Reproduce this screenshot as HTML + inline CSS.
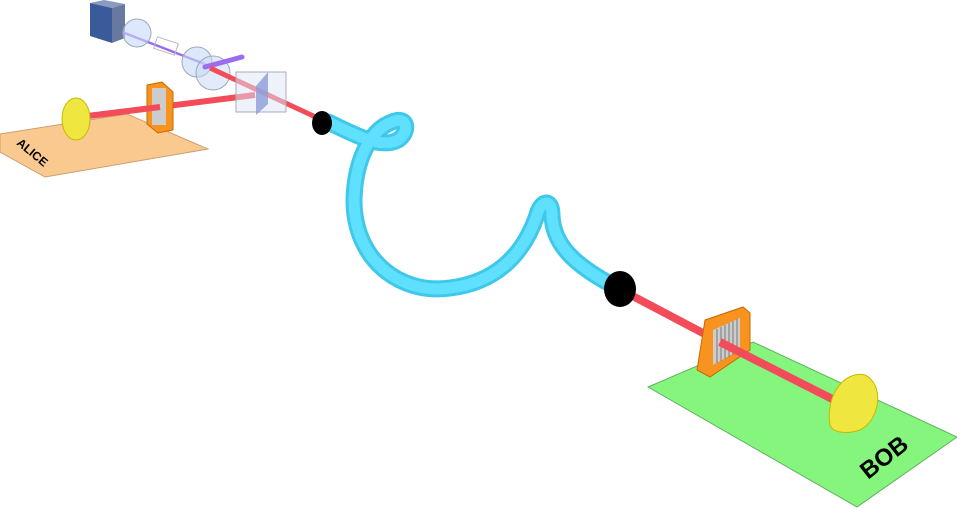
<!DOCTYPE html>
<html><head><style>body{margin:0;background:#fff}svg{display:block}</style></head><body>
<svg width="957" height="508" viewBox="0 0 957 508" xmlns="http://www.w3.org/2000/svg">
<!-- Alice board -->
<polygon points="0,134 127,114 208,149 45,177 0,152" fill="#f9c98f" stroke="#c9a070" stroke-width="1"/>
<text x="0" y="0" transform="translate(16,144) rotate(40)" font-family="Liberation Sans, sans-serif" font-weight="bold" font-size="12" fill="#000">ALICE</text>
<!-- Bob board -->
<polygon points="648,387 753,342 957,437 857,507" fill="#86f57e" stroke="#60b060" stroke-width="1"/>
<text x="0" y="0" transform="translate(868,480) rotate(-38)" font-family="Liberation Sans, sans-serif" font-weight="bold" font-size="24" fill="#000">BOB</text>
<!-- source -->
<polygon points="90,3 112,8 125,4 104,0" fill="#8a9ac0"/>
<polygon points="112,8 125,4 125,38 112,43" fill="#6878a0"/>
<polygon points="90,3 112,8 112,43 90,36" fill="#3b5a9a"/>
<line x1="122" y1="32" x2="215" y2="68" stroke="#9b6cf0" stroke-width="2.5"/>
<circle cx="137" cy="33" r="14" fill="#c8d8f8" fill-opacity="0.6" stroke="#9ab" stroke-width="1"/>
<rect x="155" y="40" width="22" height="12" fill="none" stroke="#bbb" transform="rotate(18 166 46)"/>
<circle cx="197" cy="62" r="15" fill="#c8d8f8" fill-opacity="0.6" stroke="#9ab" stroke-width="1"/>
<circle cx="213" cy="73" r="17" fill="#c8d8f8" fill-opacity="0.5" stroke="#9ab" stroke-width="1"/>
<line x1="205" y1="67" x2="242" y2="57" stroke="#9b6cf0" stroke-width="5" stroke-linecap="round"/>
<!-- red beams alice -->
<line x1="210" y1="68" x2="322" y2="120" stroke="#f24c5a" stroke-width="5"/>
<line x1="80" y1="117" x2="255" y2="95" stroke="#f24c5a" stroke-width="6"/>
<!-- cube -->
<rect x="236" y="72" width="50" height="40" fill="#dde8f8" fill-opacity="0.5" stroke="#aab" stroke-width="1"/>
<polygon points="256,86 268,72 268,104 256,115" fill="#8b9bd8" fill-opacity="0.8"/>
<!-- alice polarizer -->
<polygon points="147,85 162,82 173,92 173,130 158,133 147,124" fill="#f7931e" stroke="#c66a00"/>
<rect x="152" y="88" width="14" height="37" fill="#ccc"/>
<line x1="80" y1="117" x2="160" y2="107" stroke="#f24c5a" stroke-width="6"/>
<!-- alice detector -->
<ellipse cx="76" cy="119" rx="14" ry="21" fill="#f0e640" stroke="#c8b800"/>
<!-- fiber -->
<path d="M328,122 C350,132 380,150 398,140 C410,132 408,115 392,122 C370,130 355,160 354,200 C354,260 400,295 450,288 C500,282 525,250 537,215 C541,200 552,198 552,215 C553,245 575,265 612,285" fill="none" stroke="#3fc8ea" stroke-width="17" stroke-linecap="round"/>
<path d="M328,122 C350,132 380,150 398,140 C410,132 408,115 392,122 C370,130 355,160 354,200 C354,260 400,295 450,288 C500,282 525,250 537,215 C541,200 552,198 552,215 C553,245 575,265 612,285" fill="none" stroke="#60e0ff" stroke-width="11" stroke-linecap="round"/>
<ellipse cx="322" cy="123" rx="10" ry="12" fill="#000"/>
<!-- bob beam -->
<line x1="625" y1="292" x2="720" y2="342" stroke="#f24c5a" stroke-width="8"/>
<ellipse cx="620" cy="289" rx="16" ry="18" fill="#000"/>
<!-- bob polarizer -->
<polygon points="705,320 743,307 750,313 750,350 710,377 697,370" fill="#f7931e" stroke="#c66a00"/>
<polygon points="713,330 740,318 740,350 713,365" fill="#ccc"/>
<g stroke="#777" stroke-width="1">
<line x1="717" y1="329" x2="717" y2="363"/><line x1="721" y1="327" x2="721" y2="361"/><line x1="725" y1="325" x2="725" y2="359"/><line x1="729" y1="323" x2="729" y2="357"/><line x1="733" y1="321" x2="733" y2="355"/><line x1="737" y1="319" x2="737" y2="353"/>
</g>
<line x1="720" y1="342" x2="850" y2="408" stroke="#f24c5a" stroke-width="8"/>
<!-- bob detector -->
<path d="M830,425 C825,395 845,370 865,375 C885,385 880,420 860,430 C845,435 832,432 830,425Z" fill="#f0e640" stroke="#c8b800"/>
</svg>
</body></html>
